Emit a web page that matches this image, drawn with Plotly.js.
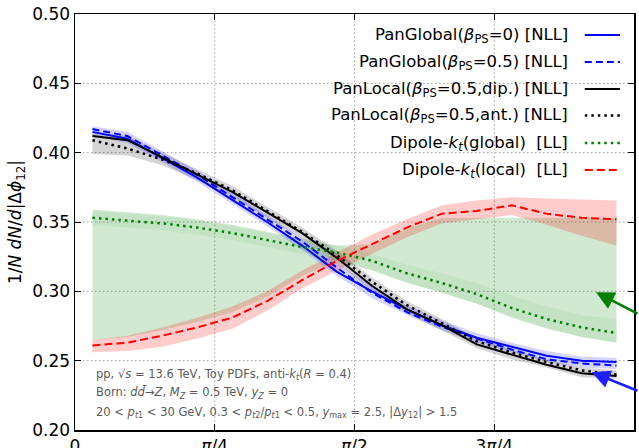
<!DOCTYPE html>
<html>
<head>
<meta charset="utf-8">
<script src="https://cdn.plot.ly/plotly-3.0.1.min.js"></script>
<style>html,body{margin:0;padding:0;background:#fff;}#chart{width:639px;height:448px;}</style>
</head>
<body>
<div id="chart"></div>
<script>
// bin centres of |Δφ12| (radians), 16 bins of width π/16
const phi = [0.0982, 0.2945, 0.4909, 0.6872, 0.8836, 1.0799, 1.2763, 1.4726,
             1.6690, 1.8653, 2.0617, 2.2580, 2.4544, 2.6507, 2.8471, 3.0434];

// PanGlobal(beta=0) [NLL]
const panGlobal0   = [0.415, 0.410, 0.396, 0.382, 0.366, 0.350, 0.333, 0.314, 0.300, 0.287, 0.2755, 0.2665, 0.260, 0.2535, 0.250, 0.249];
// PanGlobal(beta=0.5) [NLL]
const panGlobal05  = [0.417, 0.412, 0.398, 0.384, 0.368, 0.352, 0.336, 0.317, 0.299, 0.285, 0.2745, 0.266, 0.258, 0.251, 0.248, 0.2465];
// PanLocal(beta=0.5, dip.) [NLL]
const panLocalDip  = [0.412, 0.409, 0.3966, 0.384, 0.3717, 0.357, 0.342, 0.324, 0.304, 0.287, 0.2757, 0.2617, 0.2545, 0.247, 0.241, 0.239];
// PanLocal(beta=0.5, ant.) [NLL]
const panLocalAnt  = [0.409, 0.403, 0.395, 0.385, 0.373, 0.358, 0.343, 0.326, 0.307, 0.290, 0.277, 0.264, 0.256, 0.249, 0.243, 0.240];
// Dipole-kt(global) [LL]
const dipoleGlobal = [0.353, 0.351, 0.349, 0.346, 0.342, 0.337, 0.332, 0.328, 0.322, 0.313, 0.306, 0.298, 0.288, 0.280, 0.274, 0.270];
// Dipole-kt(local) [LL]
const dipoleLocal  = [0.261, 0.263, 0.268, 0.274, 0.281, 0.293, 0.308, 0.322, 0.334, 0.346, 0.356, 0.358, 0.362, 0.356, 0.353, 0.352];

// uncertainty bands
const panGlobalLo  = [0.412, 0.407, 0.393, 0.379, 0.363, 0.347, 0.330, 0.311, 0.295, 0.283, 0.272, 0.263, 0.256, 0.249, 0.245, 0.244];
const panGlobalHi  = [0.419, 0.415, 0.401, 0.387, 0.371, 0.355, 0.338, 0.320, 0.304, 0.290, 0.279, 0.270, 0.263, 0.257, 0.253, 0.252];
const panLocalLo   = [0.399, 0.398, 0.391, 0.380, 0.368, 0.353, 0.338, 0.320, 0.301, 0.284, 0.272, 0.259, 0.251, 0.245, 0.238, 0.237];
const panLocalHi   = [0.414, 0.412, 0.400, 0.388, 0.376, 0.361, 0.346, 0.329, 0.310, 0.293, 0.280, 0.266, 0.258, 0.251, 0.245, 0.243];
const dipGlobalLo  = [0.348, 0.346, 0.344, 0.341, 0.337, 0.332, 0.327, 0.323, 0.316, 0.307, 0.299, 0.291, 0.282, 0.274, 0.267, 0.263];
const dipGlobalHi  = [0.358, 0.356, 0.354, 0.351, 0.347, 0.342, 0.337, 0.333, 0.327, 0.319, 0.313, 0.306, 0.297, 0.289, 0.283, 0.280];
const dipEnvLo     = [0.265, 0.267, 0.272, 0.278, 0.285, 0.296, 0.311, 0.322, 0.315, 0.306, 0.299, 0.291, 0.281, 0.273, 0.267, 0.263];
const dipEnvHi     = [0.359, 0.357, 0.355, 0.352, 0.348, 0.343, 0.338, 0.333, 0.334, 0.345, 0.353, 0.353, 0.353, 0.353, 0.353, 0.353];
const dipLocalLo   = [0.256, 0.257, 0.260, 0.266, 0.273, 0.286, 0.302, 0.315, 0.327, 0.339, 0.349, 0.352, 0.355, 0.348, 0.340, 0.333];
const dipLocalHi   = [0.265, 0.268, 0.274, 0.281, 0.289, 0.300, 0.315, 0.328, 0.341, 0.352, 0.362, 0.3655, 0.368, 0.367, 0.366, 0.3655];

const xTickVals = [0, Math.PI/4, Math.PI/2, 3*Math.PI/4, Math.PI];
const xTickText = ['0', '<i>π</i>/4', '<i>π</i>/2', '3<i>π</i>/4', '<i>π</i>'];
const yTickVals = [0.20, 0.25, 0.30, 0.35, 0.40, 0.45, 0.50];
const yTickText = ['0.20', '0.25', '0.30', '0.35', '0.40', '0.45', '0.50'];

const legendLabels = [
  'PanGlobal(<i>β</i><sub>PS</sub>=0) [NLL]',
  'PanGlobal(<i>β</i><sub>PS</sub>=0.5) [NLL]',
  'PanLocal(<i>β</i><sub>PS</sub>=0.5,dip.) [NLL]',
  'PanLocal(<i>β</i><sub>PS</sub>=0.5,ant.) [NLL]',
  'Dipole-<i>k<sub>t</sub></i>(global)  [LL]',
  'Dipole-<i>k<sub>t</sub></i>(local)  [LL]'
];
const infoLines = [
  'pp, √<i>s</i> = 13.6 TeV, Toy PDFs, anti-<i>k<sub>t</sub></i>(<i>R</i> = 0.4)',
  'Born: <i>d</i><i>d̄</i>→<i>Z</i>, <i>M<sub>Z</sub></i> = 0.5 TeV, <i>y<sub>Z</sub></i> = 0',
  '20 &lt; <i>p</i><sub><i>t</i>1</sub> &lt; 30 GeV, 0.3 &lt; <i>p</i><sub><i>t</i>2</sub>/<i>p</i><sub><i>t</i>1</sub> &lt; 0.5, <i>y</i><sub>max</sub> = 2.5, |Δ<i>y</i><sub>12</sub>| &gt; 1.5'
];

const FONT = 'DejaVu Sans, sans-serif';

function band(lo, hi, color) {
  return {
    x: phi.concat(phi.slice().reverse()),
    y: hi.concat(lo.slice().reverse()),
    type: 'scatter', mode: 'lines', fill: 'toself', fillcolor: color,
    line: {width: 0}, hoverinfo: 'skip', showlegend: false
  };
}
function line(y, color, dash, width) {
  return {x: phi, y: y, type: 'scatter', mode: 'lines',
          line: {color: color, dash: dash, width: width}, showlegend: false};
}

const styles = [
  {color: '#0000ff', dash: 'solid', width: 2},
  {color: '#0000ff', dash: '7px,4px', width: 2},
  {color: '#000000', dash: 'solid', width: 2},
  {color: '#000000', dash: '2.5px,4px', width: 2.5},
  {color: '#008000', dash: '2.5px,4px', width: 2.5},
  {color: '#ff0000', dash: '8px,4px', width: 2}
];
const series = [panGlobal0, panGlobal05, panLocalDip, panLocalAnt, dipoleGlobal, dipoleLocal];

const traces = [
  band(dipEnvLo, dipEnvHi, 'rgba(0,128,0,0.18)'),
  band(dipGlobalLo, dipGlobalHi, 'rgba(0,128,0,0.06)'),
  band(dipLocalLo, dipLocalHi, 'rgba(255,0,0,0.2)'),
  band(panLocalLo, panLocalHi, 'rgba(0,0,0,0.17)'),
  band(panGlobalLo, panGlobalHi, 'rgba(0,0,255,0.17)')
];
series.forEach((s, i) => traces.push(line(s, styles[i].color, styles[i].dash, styles[i].width)));

const annotations = [];
const shapes = [];

// dotted grid at the inner major ticks (drawn below the data)
xTickVals.slice(1, -1).forEach(v => shapes.push({type: 'line', layer: 'below',
  xref: 'x', yref: 'paper', x0: v, x1: v, y0: 0, y1: 1,
  line: {color: '#a0a0a0', width: 1, dash: '1.5px,2.5px'}}));
yTickVals.slice(1, -1).forEach(v => shapes.push({type: 'line', layer: 'below',
  xref: 'paper', yref: 'y', x0: 0, x1: 1, y0: v, y1: v,
  line: {color: '#a0a0a0', width: 1, dash: '1.5px,2.5px'}}));

// legend drawn manually (text right, sample line to its right)
const legRowY = [0.9495, 0.8846, 0.8197, 0.7560, 0.6899, 0.6250];
legendLabels.forEach((t, i) => {
  annotations.push({xref: 'paper', yref: 'paper', x: 0.8855, y: legRowY[i], text: t,
    xanchor: 'right', yanchor: 'middle', showarrow: false,
    font: {family: FONT, size: 16.5, color: '#000'}});
  shapes.push({type: 'line', xref: 'paper', yref: 'paper', x0: 0.912, x1: 0.975,
    y0: legRowY[i], y1: legRowY[i],
    line: {color: styles[i].color, width: styles[i].width, dash: styles[i].dash}});
});
const infoY = [0.1346, 0.0889, 0.0409];
infoLines.forEach((t, i) => {
  annotations.push({xref: 'paper', yref: 'paper', x: 0.034, y: infoY[i], text: t,
    xanchor: 'left', yanchor: 'middle', showarrow: false,
    font: {family: FONT, size: 11.5, color: '#5a5a5a'}});
});
// arrows pointing at the curves from the right
const arrows = [
  {x: 2.928, y: 0.2993, ax: 62, ay: 22, color: '#008000'},
  {x: 2.904, y: 0.2416, ax: 62, ay: 19, color: '#1f1fff'}
];
arrows.forEach(a => annotations.push({x: a.x, y: a.y, xref: 'x', yref: 'y', text: '',
  showarrow: true, ax: a.ax, ay: a.ay, axref: 'pixel', ayref: 'pixel',
  arrowhead: 2, arrowsize: 1.4, arrowwidth: 2.6, arrowcolor: a.color, standoff: 0}));

const axisCommon = {
  showline: true, linecolor: '#000', linewidth: 1.5, mirror: 'ticks',
  ticks: 'inside', ticklen: 6, tickwidth: 1, tickcolor: '#000',
  showgrid: false, zeroline: false,
  tickfont: {family: FONT, size: 17, color: '#000'}
};

const layout = {
  width: 639, height: 448,
  margin: {l: 75, r: 5, t: 14, b: 18},
  paper_bgcolor: '#fff', plot_bgcolor: '#fff',
  showlegend: false,
  xaxis: Object.assign({}, axisCommon, {range: [0, Math.PI], tickmode: 'array',
    tickvals: xTickVals, ticktext: xTickText}),
  yaxis: Object.assign({}, axisCommon, {range: [0.2, 0.5], tickmode: 'array',
    tickvals: yTickVals, ticktext: yTickText,
    title: {text: '1/<i>N</i> <i>dN</i>/<i>d</i>|Δ<i>ϕ</i><sub>12</sub>|', font: {family: FONT, size: 17, color: '#000'}, standoff: 6}}),
  annotations: annotations,
  shapes: shapes
};

Plotly.newPlot('chart', traces, layout, {displayModeBar: false, staticPlot: true});
</script>
</body>
</html>
